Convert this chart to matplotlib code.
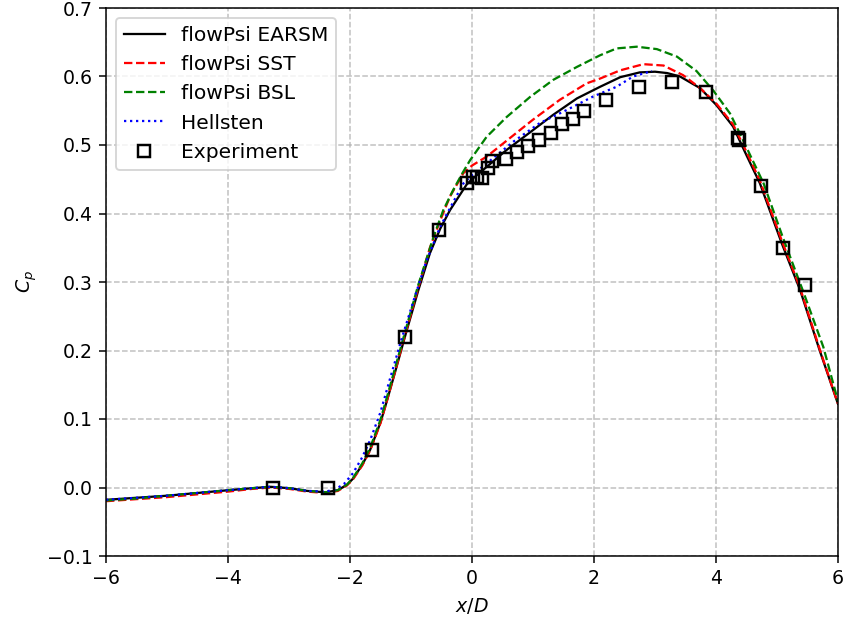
import matplotlib
matplotlib.use('Agg')
import matplotlib.pyplot as plt

# flowPsi EARSM
earsm_x = [-6, -5.5, -5, -4.5, -4, -3.6, -3.3, -3.0, -2.7, -2.4, -2.2, -2.05, -1.95, -1.8, -1.67,
           -1.5, -1.4, -1.25, -1.1, -0.88, -0.69, -0.52, -0.36, -0.2, -0.09, 0.0, 0.24, 0.57, 0.9,
           1.33, 1.72, 2.1, 2.43, 2.75, 3.0, 3.2, 3.41, 3.74, 4.01, 4.28, 4.5, 4.72, 5.08, 5.38,
           5.7, 6.0]
earsm_cp = [-0.018, -0.015, -0.012, -0.008, -0.004, -0.001, 0.001, -0.001, -0.005, -0.007, -0.004,
            0.004, 0.013, 0.033, 0.055, 0.095, 0.125, 0.172, 0.22, 0.288, 0.342, 0.378, 0.405,
            0.427, 0.442, 0.450, 0.468, 0.493, 0.515, 0.544, 0.568, 0.585, 0.599, 0.606, 0.607,
            0.605, 0.600, 0.583, 0.558, 0.527, 0.485, 0.444, 0.356, 0.288, 0.2, 0.122]

# flowPsi SST
sst_x = [-6, -5.5, -5, -4.5, -4, -3.6, -3.3, -3.0, -2.7, -2.4, -2.2, -2.05, -1.95, -1.8, -1.67,
         -1.5, -1.4, -1.25, -1.1, -0.88, -0.69, -0.52, -0.36, -0.14, 0.0, 0.24, 0.62, 1.0, 1.44,
         1.88, 2.1, 2.43, 2.81, 3.14, 3.46, 3.74, 4.01, 4.28, 4.5, 4.72, 5.08, 5.38, 5.7, 6.0]
sst_cp = [-0.020, -0.017, -0.014, -0.010, -0.006, -0.002, 0.000, -0.002, -0.006, -0.008, -0.005,
          0.003, 0.012, 0.032, 0.054, 0.094, 0.125, 0.173, 0.222, 0.292, 0.350, 0.390, 0.425,
          0.459, 0.470, 0.483, 0.510, 0.537, 0.566, 0.590, 0.597, 0.609, 0.618, 0.616, 0.602,
          0.583, 0.560, 0.530, 0.490, 0.448, 0.360, 0.291, 0.202, 0.122]

# flowPsi BSL
bsl_x = [-6, -5.5, -5, -4.5, -4, -3.6, -3.3, -3.0, -2.7, -2.4, -2.2, -2.05, -1.95, -1.8, -1.67,
         -1.5, -1.4, -1.25, -1.1, -0.88, -0.63, -0.47, -0.31, -0.15, -0.03, 0.24, 0.57, 0.95,
         1.33, 1.72, 2.1, 2.37, 2.7, 3.03, 3.36, 3.68, 3.96, 4.23, 4.39, 4.78, 5.1, 5.43, 5.76, 6.0]
bsl_cp = [-0.019, -0.016, -0.012, -0.008, -0.004, -0.001, 0.001, -0.001, -0.005, -0.007, -0.004,
          0.004, 0.014, 0.035, 0.058, 0.099, 0.130, 0.178, 0.226, 0.296, 0.366, 0.405, 0.434,
          0.46, 0.478, 0.512, 0.541, 0.570, 0.595, 0.614, 0.631, 0.641, 0.6435, 0.640, 0.629,
          0.608, 0.579, 0.546, 0.517, 0.444, 0.364, 0.286, 0.205, 0.126]

# Hellsten
hell_x = [-6, -5.5, -5, -4.5, -4, -3.6, -3.3, -3.0, -2.7, -2.4, -2.25, -2.1, -1.95, -1.8, -1.67,
          -1.5, -1.34, -1.15, -0.95, -0.75, -0.52, -0.3, -0.14, 0.0, 0.24, 0.68, 1.11, 1.55,
          1.99, 2.37, 2.64, 2.95]
hell_cp = [-0.018, -0.015, -0.012, -0.008, -0.004, -0.001, 0.001, -0.001, -0.005, -0.006, -0.003,
           0.005, 0.021, 0.044, 0.069, 0.110, 0.160, 0.218, 0.275, 0.33, 0.381, 0.418, 0.444,
           0.456, 0.473, 0.505, 0.532, 0.551, 0.571, 0.585, 0.600, 0.608]

# Experiment
exp_x = [-3.27, -2.36, -1.64, -1.10, -0.54, -0.09, 0.02, 0.08, 0.17, 0.27, 0.33, 0.56, 0.74,
         0.92, 1.10, 1.29, 1.47, 1.65, 1.83, 2.20, 2.74, 3.28, 3.83, 4.36, 4.38, 4.74, 5.10, 5.46]
exp_cp = [0.0, 0.0, 0.055, 0.22, 0.376, 0.445, 0.453, 0.453, 0.452, 0.466, 0.476, 0.48, 0.49,
          0.499, 0.507, 0.517, 0.531, 0.538, 0.550, 0.565, 0.585, 0.592, 0.577, 0.510, 0.507,
          0.440, 0.350, 0.295]

fig = plt.figure(figsize=(848 / 136, 623 / 136), dpi=136)
ax = fig.add_axes([106 / 848, 67 / 623, 732 / 848, 548 / 623])

lw = 1.2
ax.plot(earsm_x, earsm_cp, color='black', linestyle='-', linewidth=lw, label='flowPsi EARSM')
ax.plot(sst_x, sst_cp, color='red', linestyle='--', linewidth=lw, label='flowPsi SST')
ax.plot(bsl_x, bsl_cp, color='green', linestyle='--', linewidth=lw, label='flowPsi BSL')
ax.plot(hell_x, hell_cp, color='blue', linestyle=':', linewidth=lw, label='Hellsten')
ax.plot(exp_x, exp_cp, linestyle='none', marker='s', markersize=6.5, markerfacecolor='none',
        markeredgecolor='black', markeredgewidth=1.3, label='Experiment')

ax.set_xlim(-6, 6)
ax.set_ylim(-0.1, 0.7)
ax.set_xlabel('$x/D$')
ax.set_ylabel('$C_p$')
ax.grid(True, color='#b0b0b0', linestyle='--', alpha=0.8)
ax.legend(loc='upper left', fontsize=10.7)

fig.savefig('out.png', dpi=136)
